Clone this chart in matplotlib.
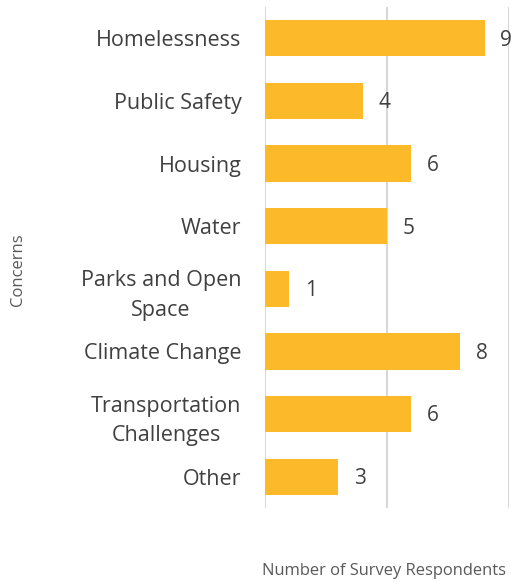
import matplotlib
matplotlib.use("Agg")
import matplotlib.pyplot as plt

concerns = ["Homelessness", "Public Safety", "Housing", "Water",
            "Parks and Open\nSpace", "Climate Change",
            "Transportation\nChallenges", "Other"]
respondents = [9, 4, 6, 5, 1, 8, 6, 3]

BAR = "#FCBA2A"
TXT = "#404040"
plt.rcParams["font.family"] = ["Open Sans", "DejaVu Sans"]

fig = plt.figure(figsize=(5.11, 5.82), dpi=100)
ax = fig.add_axes([265 / 511, 1 - 508 / 582, 244 / 511, 501 / 582])

pos = list(range(len(concerns)))
ax.barh(pos, respondents, height=0.58, color=BAR, zorder=2)
ax.set_xlim(0, 10)
ax.set_ylim(len(concerns) - 0.5, -0.5)
ax.set_yticks(pos)
ax.set_yticklabels(concerns, fontsize=15.5, color=TXT,
                   multialignment="center", linespacing=1.55)
ax.tick_params(axis="y", length=0, pad=17)
ax.set_xticks([0, 5, 10])
ax.set_xticklabels([])
ax.tick_params(axis="x", length=0)
ax.grid(axis="x", color="#d0d0d0", lw=1.2, zorder=0)
for s in ax.spines.values():
    s.set_visible(False)

for y, v in zip(pos, respondents):
    ax.text(v + 0.65, y + 0.03, str(v), va="center", ha="left", fontsize=15,
            color=TXT, clip_on=False)

fig.text(262 / 511, 1 - 571 / 582, "Number of Survey Respondents",
         fontsize=11.9, color="#595959", va="center", ha="left")
fig.text(18 / 511, 1 - 270 / 582, "Concerns", fontsize=12, color="#595959",
         rotation=90, va="center", ha="center")

fig.savefig("out.png", dpi=100)
